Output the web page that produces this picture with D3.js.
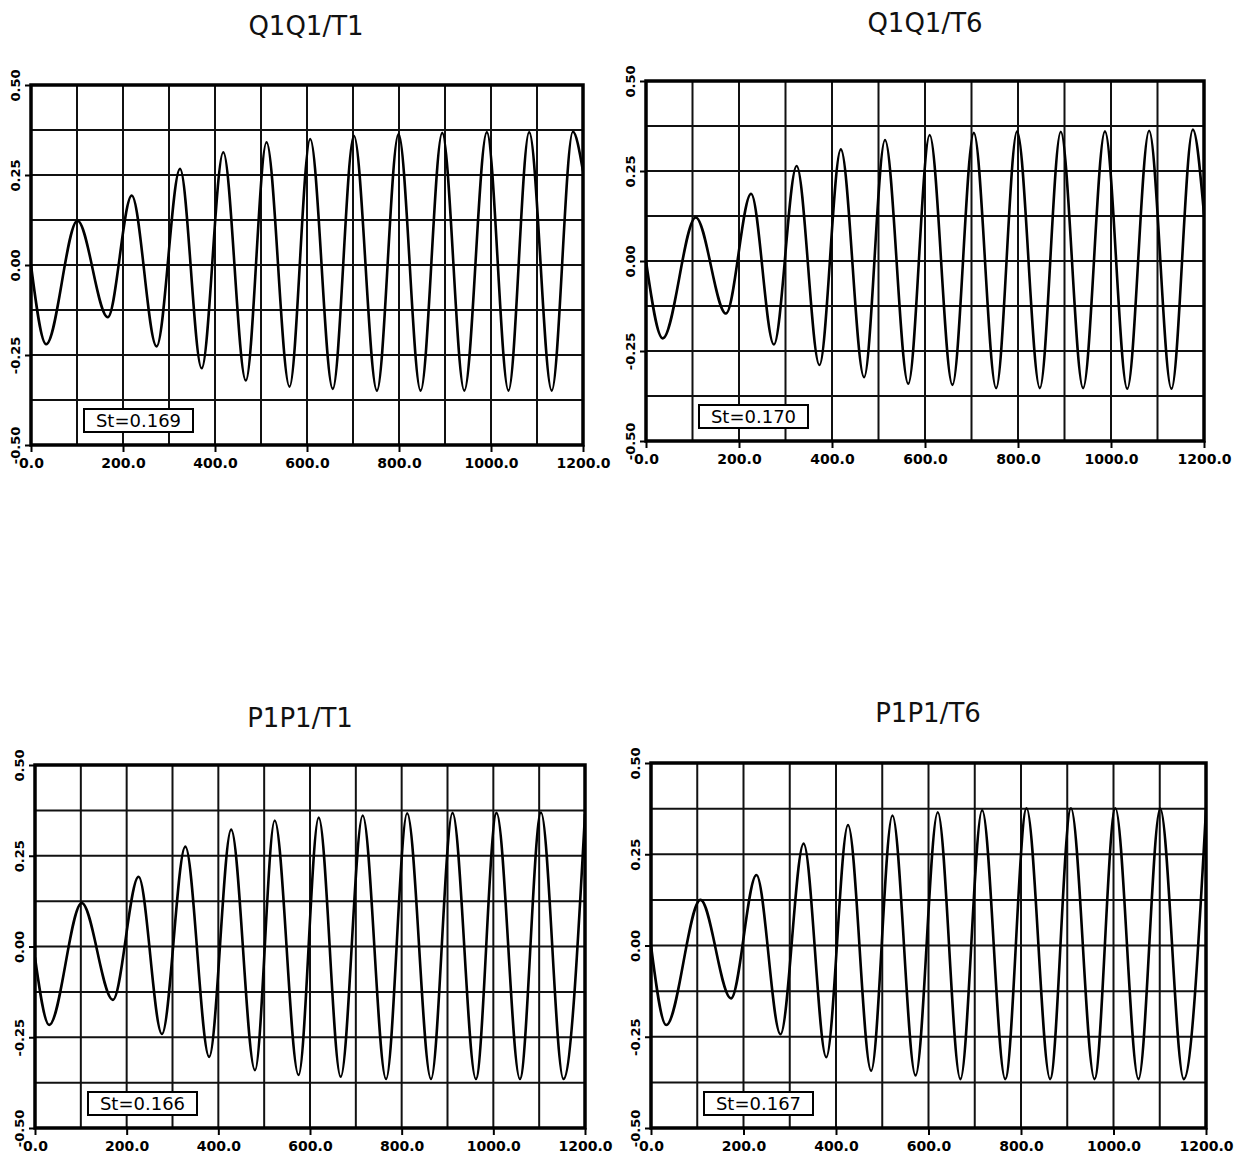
<!DOCTYPE html>
<html>
<head>
<meta charset="utf-8">
<script src="https://cdn.jsdelivr.net/npm/d3@7"></script>
<style>
  body { margin: 0; background: #fff; }
  svg { display: block; }
</style>
</head>
<body>
<svg id="chart"></svg>
<script>
// extrema of each trace, [time, value]
const q1q1T1 = [
    [0, 0], [33, -0.22], [101, 0.123], [167, -0.145], [219, 0.193], [273, -0.226],
    [324, 0.267], [371, -0.287], [418, 0.313], [467, -0.321], [512, 0.341], [562, -0.338],
    [607, 0.35], [656, -0.344], [702, 0.359], [752, -0.349], [799, 0.364], [847, -0.349],
    [894, 0.367], [942, -0.349], [991, 0.369], [1038, -0.349], [1083, 0.369], [1132, -0.349],
    [1178, 0.37], [1200, 0.26]
];
const q1q1T6 = [
    [0, 0], [36, -0.215], [107, 0.121], [172, -0.146], [226, 0.187], [275, -0.232],
    [324, 0.264], [373, -0.289], [419, 0.31], [469, -0.323], [514, 0.336], [564, -0.341],
    [610, 0.35], [659, -0.344], [705, 0.356], [753, -0.353], [798, 0.36], [847, -0.353],
    [892, 0.359], [940, -0.353], [987, 0.36], [1035, -0.355], [1082, 0.362], [1130, -0.355],
    [1176, 0.365], [1200, 0.13]
];
const p1p1T1 = [
    [0, -0.03], [31, -0.216], [102, 0.12], [170, -0.147], [226, 0.192], [277, -0.241],
    [328, 0.275], [380, -0.304], [428, 0.322], [480, -0.341], [523, 0.347], [575, -0.354],
    [619, 0.355], [667, -0.359], [715, 0.361], [766, -0.365], [812, 0.367], [864, -0.365],
    [911, 0.368], [962, -0.365], [1007, 0.368], [1058, -0.365], [1104, 0.369], [1153, -0.365],
    [1200, 0.365]
];
const p1p1T6 = [
    [0, 0], [33, -0.218], [107, 0.125], [173, -0.145], [228, 0.193], [280, -0.243],
    [330, 0.279], [379, -0.306], [426, 0.33], [476, -0.343], [522, 0.356], [572, -0.356],
    [620, 0.365], [669, -0.366], [716, 0.371], [766, -0.366], [812, 0.376], [863, -0.366],
    [908, 0.376], [959, -0.366], [1004, 0.376], [1054, -0.366], [1101, 0.375], [1152, -0.366],
    [1200, 0.372]
];

const titles = ['Q1Q1/T1', 'Q1Q1/T6', 'P1P1/T1', 'P1P1/T6'];
const strouhal = ['St=0.169', 'St=0.170', 'St=0.166', 'St=0.167'];
const series = [q1q1T1, q1q1T6, p1p1T1, p1p1T6];

const xTicks = [0, 200, 400, 600, 800, 1000, 1200];
const yTicks = [-0.5, -0.25, 0, 0.25, 0.5];
const xGrid = d3.range(0, 1201, 100);
const yGrid = d3.range(-0.5, 0.501, 0.125);

// panel placement on the page
const layout = [
    { left: 31, top: 85, width: 552, height: 360, titleX: 306, titleY: 35 },
    { left: 646, top: 81, width: 558, height: 360, titleX: 925, titleY: 32 },
    { left: 35, top: 765, width: 550, height: 363, titleX: 300, titleY: 727 },
    { left: 651, top: 763, width: 555, height: 365, titleX: 928, titleY: 722 }
];

const svg = d3.select('#chart')
    .attr('width', 1242)
    .attr('height', 1154);

svg.append('rect')
    .attr('width', 1242)
    .attr('height', 1154)
    .attr('fill', '#fff');

layout.forEach((p, i) => {
    const x = d3.scaleLinear().domain([0, 1200]).range([0, p.width]);
    const y = d3.scaleLinear().domain([-0.5, 0.5]).range([p.height, 0]);

    svg.append('text')
        .attr('x', p.titleX)
        .attr('y', p.titleY)
        .attr('text-anchor', 'middle')
        .style('font-family', 'DejaVu Sans, sans-serif')
        .style('font-size', '26px')
        .style('fill', '#111')
        .text(titles[i]);

    const g = svg.append('g')
        .attr('transform', `translate(${p.left},${p.top})`);

    g.append('clipPath')
        .attr('id', 'clip' + i)
        .append('rect')
        .attr('width', p.width)
        .attr('height', p.height);

    // grid
    g.append('g')
        .selectAll('line')
        .data(xGrid)
        .join('line')
        .attr('x1', d => x(d))
        .attr('x2', d => x(d))
        .attr('y1', 0)
        .attr('y2', p.height)
        .attr('stroke', '#111')
        .attr('stroke-width', 2);

    g.append('g')
        .selectAll('line')
        .data(yGrid)
        .join('line')
        .attr('x1', 0)
        .attr('x2', p.width)
        .attr('y1', d => y(d))
        .attr('y2', d => y(d))
        .attr('stroke', '#111')
        .attr('stroke-width', 2);

    // trace
    const line = d3.line()
        .x(d => x(d[0]))
        .y(d => y(d[1]))
        .curve(d3.curveMonotoneX);

    g.append('path')
        .datum(series[i])
        .attr('clip-path', `url(#clip${i})`)
        .attr('d', line)
        .attr('fill', 'none')
        .attr('stroke', '#000')
        .attr('stroke-width', 2.6);

    // frame
    g.append('rect')
        .attr('width', p.width)
        .attr('height', p.height)
        .attr('fill', 'none')
        .attr('stroke', '#000')
        .attr('stroke-width', 3.5);

    // axes
    const xAxis = g.append('g')
        .attr('transform', `translate(0,${p.height})`)
        .call(d3.axisBottom(x).tickValues(xTicks).tickSize(7).tickSizeOuter(0)
            .tickFormat(d3.format('.1f')));
    xAxis.select('.domain').remove();
    xAxis.selectAll('line').attr('stroke', '#000').attr('stroke-width', 2);
    xAxis.selectAll('text')
        .attr('y', 13)
        .style('font-family', 'DejaVu Sans, sans-serif')
        .style('font-weight', 'bold')
        .style('font-size', '14px')
        .style('fill', '#000');

    const yAxis = g.append('g')
        .call(d3.axisLeft(y).tickValues(yTicks).tickSize(6).tickSizeOuter(0)
            .tickFormat(d => d3.format('.2f')(d).replace('−', '-')));
    yAxis.select('.domain').remove();
    yAxis.selectAll('line').attr('stroke', '#000').attr('stroke-width', 2);
    yAxis.selectAll('text')
        .attr('transform', 'rotate(-90)')
        .attr('x', 0)
        .attr('y', -11)
        .attr('dy', 0)
        .attr('text-anchor', 'middle')
        .style('font-family', 'DejaVu Sans, sans-serif')
        .style('font-weight', 'bold')
        .style('font-size', '13px')
        .style('fill', '#000');

    // Strouhal label box
    const box = g.append('g')
        .attr('transform', `translate(53,${p.height - 36})`);
    box.append('rect')
        .attr('width', 109)
        .attr('height', 23)
        .attr('fill', '#fff')
        .attr('stroke', '#000')
        .attr('stroke-width', 2);
    box.append('text')
        .attr('x', 54.5)
        .attr('y', 18)
        .attr('text-anchor', 'middle')
        .style('font-family', 'DejaVu Sans, sans-serif')
        .style('font-size', '18px')
        .style('fill', '#000')
        .text(strouhal[i]);
});
</script>
</body>
</html>
